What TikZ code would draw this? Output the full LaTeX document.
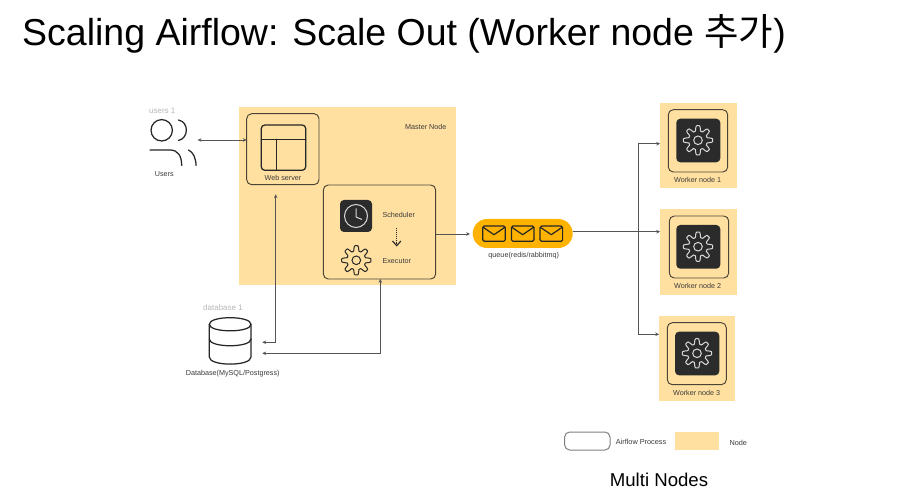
\documentclass[tikz,border=0pt]{standalone}
\usepackage{fontspec}
\setmainfont{Liberation Sans}
\newfontfamily\cjk{Noto Sans CJK KR}
\usetikzlibrary{arrows.meta}
\definecolor{nodefill}{HTML}{FFE0A0}
\definecolor{pillfill}{HTML}{FFB300}
\definecolor{darkfill}{HTML}{2B2B2B}
\definecolor{strokec}{HTML}{4A4436}
\definecolor{linec}{HTML}{555555}
\definecolor{labelc}{HTML}{3A3A3A}
\definecolor{fadec}{HTML}{B8B8B8}
\tikzset{
  x=1pt,y=-1pt,
  nodebox/.style={fill=nodefill,draw=none,inner sep=0pt,outer sep=0pt},
  procbox/.style={draw=strokec,line width=.95pt,rounded corners=5pt,inner sep=0pt,outer sep=0pt},
  darkbox/.style={fill=darkfill,draw=none,rounded corners=4pt,inner sep=0pt,outer sep=0pt},
  lbl/.style={font=\fontsize{7.2}{8.5}\selectfont,text=labelc,inner sep=0pt},
  fade/.style={font=\fontsize{8}{9}\selectfont,text=fadec,inner sep=0pt},
  conn/.style={draw=linec,line width=.9pt,-{Stealth[length=3.8pt,width=3.6pt]}},
  both/.style={draw=linec,line width=.9pt,{Stealth[length=3.8pt,width=3.6pt]}-{Stealth[length=3.8pt,width=3.6pt]}},
  icon/.style={draw=black!85,line width=1.25pt,line cap=round},
  pics/gearicon/.style={code={
    \draw[#1,line width=1pt,line join=round]
      plot[variable=\t,smooth cycle,samples=121,domain=0:357] (\t:{12+2.6*max(-1,min(1,1.7*cos(8*\t)))});
    \draw[#1,line width=1pt] (0,0) circle[radius=4.3];
  }},
  pics/envelope/.style={code={
    \draw[draw=black!85,line width=1.2pt,rounded corners=1.5pt] (-11.3,-7.6) rectangle (11.3,7.6);
    \draw[draw=black!85,line width=1.2pt,line join=round] (-11,-6.5) -- (0,1) -- (11,-6.5);
  }}
}
\begin{document}
\begin{tikzpicture}
\useasboundingbox (0,0) rectangle (907,502);
\fill[white] (0,0) rectangle (907,502);
% title
\node[anchor=west,inner sep=0pt,font=\fontsize{37.5}{40}\selectfont] (title) at (22,34) {Scaling Airflow: Scale Out (Worker node {\cjk 추가})};
% master node
\node[nodebox,minimum width=217.3pt,minimum height=178pt] (master) at (347.35,196) {};
\node[lbl,anchor=west] (masterlbl) at (405,127) {Master Node};
\node[procbox,minimum width=72.3pt,minimum height=71pt] (web) at (282.85,149.2) {};
\draw[icon,rounded corners=3.5pt] (261.3,125) rectangle (305.7,170.3);
\draw[icon] (261.3,139.3) -- (305.7,139.3) (276.3,139.3) -- (276.3,170.3);
\node[lbl] (weblbl) at (283,177.7) {Web server};
\node[procbox,minimum width=112.4pt,minimum height=94pt] (sched) at (379.5,232) {};
\node[darkbox,minimum width=32pt,minimum height=32pt] (clock) at (356,216) {};
\draw[white!85!black,line width=1pt] (356,216) circle[radius=11.5];
\draw[white!85!black,line width=1pt] (356,208.5) -- (356,217) -- (362,219.5);
\node[lbl,anchor=west] (schedlbl) at (382.3,215.3) {Scheduler};
\node[lbl,anchor=west] (execlbl) at (382.3,260.7) {Executor};
\pic at (356.3,260.3) {gearicon={draw=black!85}};
\coordinate (dota) at (396.7,228.3);
\coordinate (dotb) at (396.7,245.7);
\draw[draw=black!85,line width=.9pt,densely dotted] (dota) -- (396.7,244);
\draw[draw=black!85,line width=1.1pt] (392.5,241) -- (dotb) -- (400.9,241);
% users
\node[fade] (userstop) at (162.3,110.7) {users 1};
\draw[icon] (161.7,130.3) circle[radius=10.7];
\draw[icon] (178.5,120) .. controls (189,122) and (189,138) .. (178.5,140.5);
\draw[icon] (150,150) -- (170,150) .. controls (178,150) and (181.7,156) .. (181.7,165.5);
\draw[icon] (188.5,150) .. controls (193,152) and (196,158) .. (196,165.5);
\node[lbl] (userslbl) at (164.3,173.7) {Users};
\coordinate (usersport) at (197.7,140);
\draw[both] (usersport) -- (web.west |- usersport);
% database
\node[fade] (dbtop) at (223,308) {database 1};
\draw[icon,fill=white] (209.3,324.3) .. controls (209.3,315.5) and (251,315.5) .. (251,324.3)
  -- (251,357) .. controls (251,366.5) and (209.3,366.5) .. (209.3,357) -- cycle;
\draw[icon] (209.3,324.3) .. controls (209.3,333) and (251,333) .. (251,324.3);
\draw[icon] (209.3,339) .. controls (209.3,348) and (251,348) .. (251,339);
\node[lbl] (dblbl) at (232.7,373.3) {Database(MySQL/Postgress)};
\coordinate (dbwebport) at (262.3,342.3);
\coordinate (dbschedport) at (262.3,353.3);
\coordinate (webport) at (275.7,194.3);
\coordinate (schedport) at (380.3,279);
\draw[both] (dbwebport) -| (webport);
\draw[both] (dbschedport) -| (schedport);
% queue
\node[fill=pillfill,draw=none,rounded corners=14.5pt,minimum width=100pt,minimum height=29pt,inner sep=0pt,outer sep=0pt] (queue) at (522.7,233.5) {};
\pic at (494,233.7) {envelope};
\pic at (522.7,233.7) {envelope};
\pic at (551.3,233.7) {envelope};
\node[lbl] (queuelbl) at (523.7,256) {queue(redis/rabbitmq)};
\draw[conn] (sched.east |- 0,234) -- (470,234);
% workers
\node[nodebox,minimum width=76.7pt,minimum height=85.3pt] (w1) at (698.35,145.65) {};
\node[procbox,minimum width=59.4pt,minimum height=62.3pt] (w1p) at (698,140.85) {};
\node[darkbox,minimum width=44pt,minimum height=43.6pt] (w1d) at (698.3,140.5) {};
\pic at (698,140.3) {gearicon={draw=white!85!black}};
\node[lbl] (w1l) at (697.7,180) {Worker node 1};
\node[nodebox,minimum width=76.7pt,minimum height=85.4pt] (w2) at (698.35,252) {};
\node[procbox,minimum width=59.4pt,minimum height=62pt] (w2p) at (699,247) {};
\node[darkbox,minimum width=44pt,minimum height=43.7pt] (w2d) at (698.3,246.85) {};
\pic at (698,246.7) {gearicon={draw=white!85!black}};
\node[lbl] (w2l) at (697.7,286.3) {Worker node 2};
\node[nodebox,minimum width=76.3pt,minimum height=85.3pt] (w3) at (697.15,358.65) {};
\node[procbox,minimum width=59pt,minimum height=62pt] (w3p) at (696.8,353.7) {};
\node[darkbox,minimum width=44.3pt,minimum height=43.6pt] (w3d) at (697.15,353.5) {};
\pic at (697,353.3) {gearicon={draw=white!85!black}};
\node[lbl] (w3l) at (696.7,393) {Worker node 3};
% connectors
\coordinate (fork) at (638.3,231.7);
\draw[conn] (queue.east |- fork) -- (w2.west |- fork);
\draw[conn] (fork) |- (w1.west |- 0,143.7);
\draw[conn] (fork) |- (w3.west |- 0,334.3);
% legend
\node[draw=black!50,line width=1pt,rounded corners=5pt,minimum width=45.3pt,minimum height=18pt,inner sep=0pt] (legproc) at (587.35,441) {};
\node[lbl,anchor=west,font=\fontsize{7.3}{8}\selectfont] (legproclbl) at (615.7,442) {Airflow Process};
\node[nodebox,minimum width=44.6pt,minimum height=17.7pt] (legnode) at (697,440.85) {};
\node[lbl,anchor=west,font=\fontsize{7.3}{8}\selectfont] (legnodelbl) at (729.3,443.3) {Node};
\node[inner sep=0pt,font=\fontsize{18.6}{20}\selectfont] (multi) at (659,480) {Multi Nodes};
\end{tikzpicture}
\end{document}
